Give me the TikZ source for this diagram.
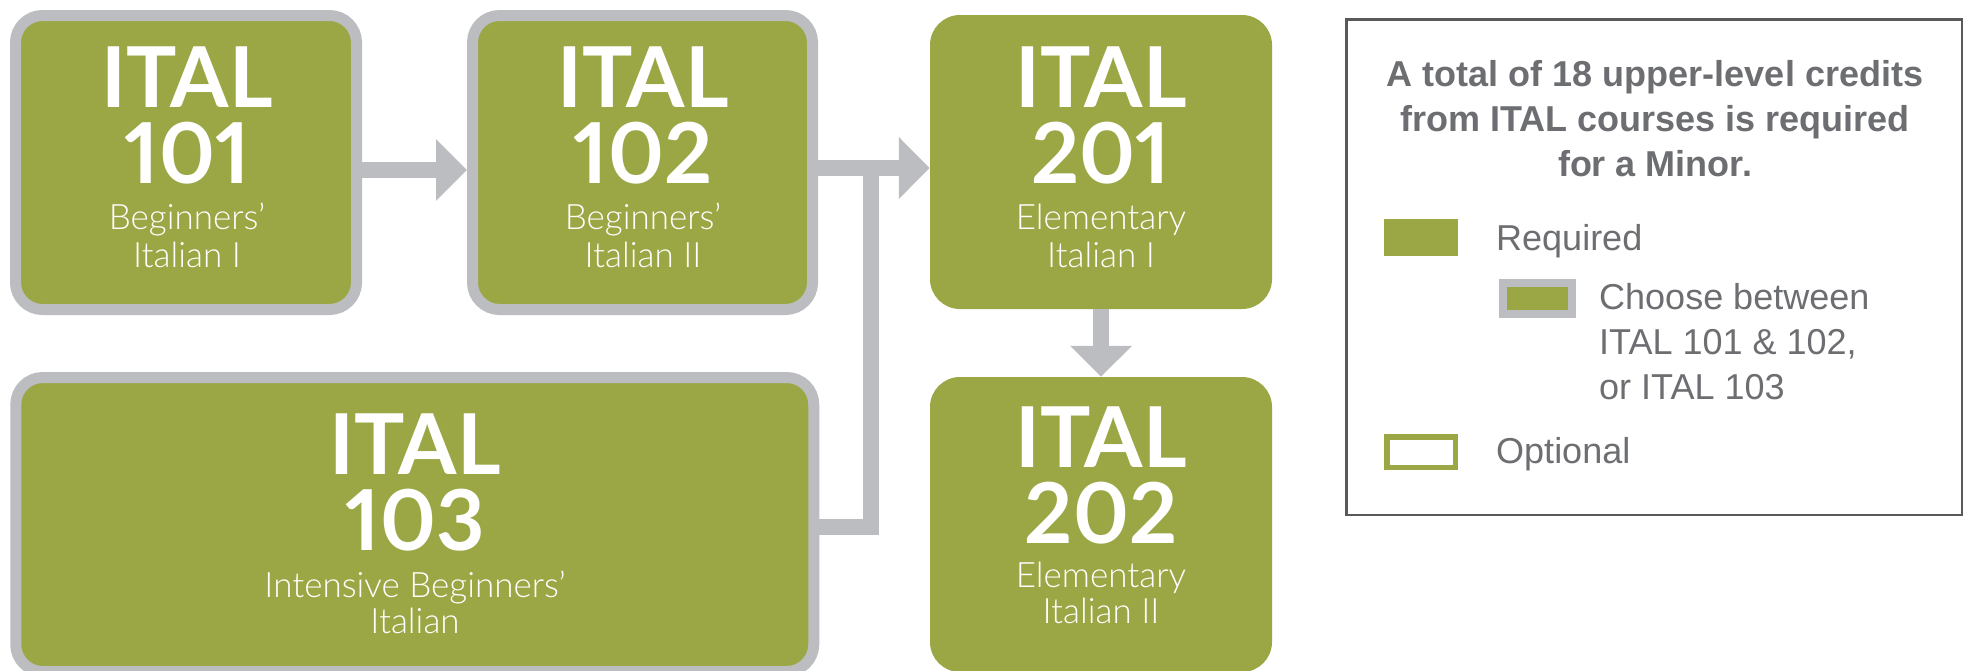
\documentclass[tikz,border=0pt]{standalone}
\usepackage{fontspec}
\setmainfont{Liberation Sans}
\newfontfamily\ttlfont{Lato}[Numbers=Proportional]
\newfontfamily\subfont{Lato Light}
\usetikzlibrary{arrows.meta}
\definecolor{cgreen}{HTML}{9BA745}
\definecolor{cgray}{HTML}{BCBDC0}
\definecolor{tgray}{HTML}{6D6E71}
\definecolor{lgray}{HTML}{58595B}
\tikzset{
  course/.style={fill=cgreen, draw=none, inner sep=0pt, rounded corners=30pt},
  choose/.style={fill=cgreen, draw=cgray, line width=11pt, inner sep=0pt, rounded corners=27pt},
  conn/.style={draw=cgray, line width=16pt, -{Triangle[length=31pt,width=60pt]}},
  joinline/.style={draw=cgray, line width=16pt},
  ttl/.style={anchor=base, inner sep=0pt, text height=61pt, text depth=1pt, text=white, font=\ttlfont\bfseries\fontsize{84}{84}\selectfont},
  sub/.style={anchor=base, inner sep=0pt, text height=27pt, text depth=8pt, text=white, font=\subfont\fontsize{35}{38}\selectfont},
  ltitle/.style={anchor=base, inner sep=0pt, text=tgray, font=\bfseries\fontsize{36}{36}\selectfont},
  litem/.style={anchor=base west, inner sep=0pt, text=tgray, font=\fontsize{36}{36}\selectfont},
}
% #1 name, #2 x, #3-#6 baselines, #7 number, #8 #9 subtitle lines
\newcommand\coursetext[9]{%
  \node[ttl] (#1t1) at (#2,#3) {ITAL};
  \node[ttl] (#1t2) at (#2,#4) {#7};
  \node[sub] (#1t3) at (#2,#5) {#8};
  \node[sub] (#1t4) at (#2,#6) {#9};
}
\begin{document}
\begin{tikzpicture}[x=1pt,y=-1pt]
\useasboundingbox (0,0) rectangle (1975,670);
\fill[white] (0,0) rectangle (1975,670);
\clip (0,0) rectangle (1975,670);

% course boxes
\node[choose, minimum width=341pt, minimum height=294pt] (c101) at (186,162.5) {};
\node[choose, minimum width=340pt, minimum height=294pt] (c102) at (642.5,162.5) {};
\node[choose, minimum width=798pt, minimum height=294pt] (c103) at (414.75,524.5) {};
\node[course, minimum width=342pt, minimum height=294pt] (c201) at (1101,162) {};
\node[course, minimum width=342pt, minimum height=295pt] (c202) at (1101,524.5) {};

\coursetext{a}{187}{107}{183}{229}{267}{101}{Beginners’}{Italian I}
\coursetext{b}{643}{107}{183}{229}{267}{102}{Beginners’}{Italian II}
\coursetext{c}{415}{474}{550}{597}{633}{103}{Intensive Beginners’}{Italian}
\coursetext{d}{1101}{107}{183}{229}{267}{201}{Elementary}{Italian I}
\coursetext{e}{1101}{467}{543}{587}{623}{202}{Elementary}{Italian II}

% connectors
\coordinate (y170) at (0,170);
\coordinate (y168) at (0,168);
\coordinate (y527) at (0,527);
\coordinate (j) at (871,168);
\draw[joinline] (c103.east |- y527) -| (j);
\draw[conn] (c101.east |- y170) -- (c102.west |- y170);
\draw[conn] (c102.east |- y168) -- (c201.west |- y168);
\draw[conn] (c201.south) -- (c202.north);

% legend
\node[draw=lgray, line width=2.5pt, inner sep=0pt, minimum width=615.5pt, minimum height=495.5pt] (legend) at (1654,267) {};
\node[ltitle] (lt1) at (1655,86) {A total of 18 upper-level credits};
\node[ltitle] (lt2) at (1655,131) {from ITAL courses is required};
\node[ltitle] (lt3) at (1655,176) {for a Minor.};

\node[fill=cgreen, inner sep=0pt, minimum width=74pt, minimum height=37pt] (sreq) at (1421,237.5) {};
\node[fill=cgreen, draw=cgray, line width=8pt, inner sep=0pt, minimum width=69pt, minimum height=31pt] (scho) at (1537.5,298.5) {};
\node[fill=white, draw=cgreen, line width=5.5pt, inner sep=0pt, minimum width=68.5pt, minimum height=30.5pt] (sopt) at (1421,452) {};

\node[litem] (lreq) at (1496,250) {Required};
\node[litem] (lch1) at (1599,309) {Choose between};
\node[litem] (lch2) at (1599,354) {ITAL 101 \& 102,};
\node[litem] (lch3) at (1599,399) {or ITAL 103};
\node[litem] (lopt) at (1496,463) {Optional};
\end{tikzpicture}
\end{document}
